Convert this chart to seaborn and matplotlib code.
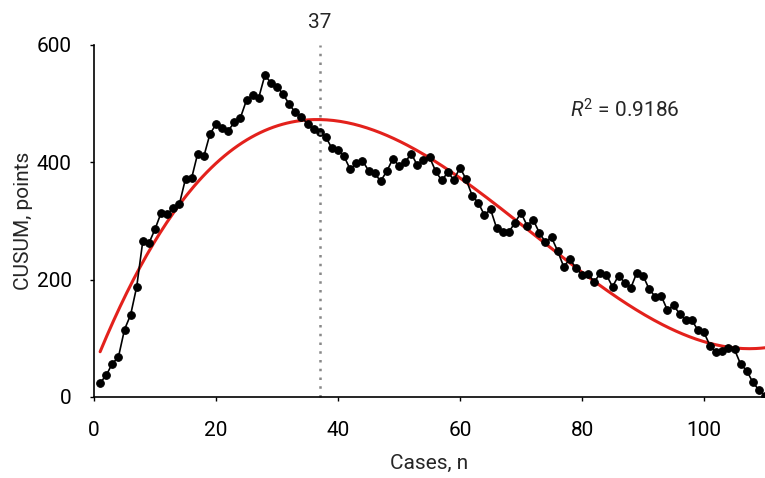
import numpy as np
import pandas as pd
import matplotlib
matplotlib.use('Agg')
import matplotlib.pyplot as plt
import seaborn as sns
from matplotlib import font_manager

cases = list(range(1, 111))
cusum = [24, 37, 57, 68, 115, 140, 188, 266, 262, 286,
         314, 312, 322, 329, 372, 373, 415, 410, 448, 465,
         458, 454, 468, 476, 506, 514, 510, 548, 536, 529,
         516, 499, 485, 478, 465, 456, 452, 443, 424, 421,
         410, 388, 398, 403, 386, 381, 368, 385, 406, 394,
         400, 415, 395, 404, 409, 385, 369, 383, 370, 391,
         371, 343, 331, 310, 320, 288, 282, 281, 297, 314,
         292, 302, 280, 264, 272, 249, 222, 235, 220, 208,
         210, 196, 211, 208, 188, 207, 195, 186, 212, 207,
         184, 171, 172, 148, 156, 142, 131, 131, 114, 110,
         87, 76, 79, 84, 81, 56, 45, 25, 12, 2]
cut_case = 37
r2_label = '0.9186'

df = pd.DataFrame({'Cases': cases, 'CUSUM': cusum})

# polynomial trend line (like the spreadsheet trendline)
coef = np.polyfit(df['Cases'], df['CUSUM'], 3)
xs = np.linspace(1, 110, 300)
trend = pd.DataFrame({'Cases': xs, 'CUSUM': np.polyval(coef, xs)})

sns.set_style('ticks')
names = {f.name for f in font_manager.fontManager.ttflist}
fam = 'Liberation Sans Narrow' if 'Liberation Sans Narrow' in names else 'Roboto'
plt.rcParams['font.family'] = [fam, 'DejaVu Sans']
plt.rcParams['mathtext.fontset'] = 'custom'
plt.rcParams['mathtext.rm'] = fam
plt.rcParams['mathtext.it'] = fam + ':italic'

fig = plt.figure(figsize=(7.65, 4.78), dpi=100)
ax = fig.add_axes([0.1229, 0.1695, 0.8771, 0.7364])

sns.lineplot(data=trend, x='Cases', y='CUSUM', color='#e3211c', lw=2.2, ax=ax)
sns.lineplot(data=df, x='Cases', y='CUSUM', color='black', lw=1.2,
             marker='o', markersize=5.5, markeredgecolor='black', ax=ax)

ax.axvline(cut_case, color='#888888', ls=(0, (1, 2.5)), lw=1.8, clip_on=False)
ax.text(cut_case, 622, str(cut_case), ha='center', va='bottom', fontsize=15)
ax.text(87, 489, r'$\it{R}^2$ = ' + r2_label, ha='center', va='center', fontsize=15)

ax.set_xlim(0, 110)
ax.set_ylim(0, 600)
ax.set_xticks([0, 20, 40, 60, 80, 100])
ax.set_yticks([0, 200, 400, 600])
ax.tick_params(labelsize=15, length=3, width=1, colors='black')
ax.tick_params(axis='x', pad=14)
ax.tick_params(axis='y', pad=13)
ax.set_xlabel('Cases, n', fontsize=15, labelpad=10)
ax.set_ylabel('CUSUM, points', fontsize=15, labelpad=3)
for s in ax.spines.values():
    s.set_color('black')
    s.set_linewidth(1.2)
sns.despine(ax=ax)

fig.savefig('out.png', dpi=100)
